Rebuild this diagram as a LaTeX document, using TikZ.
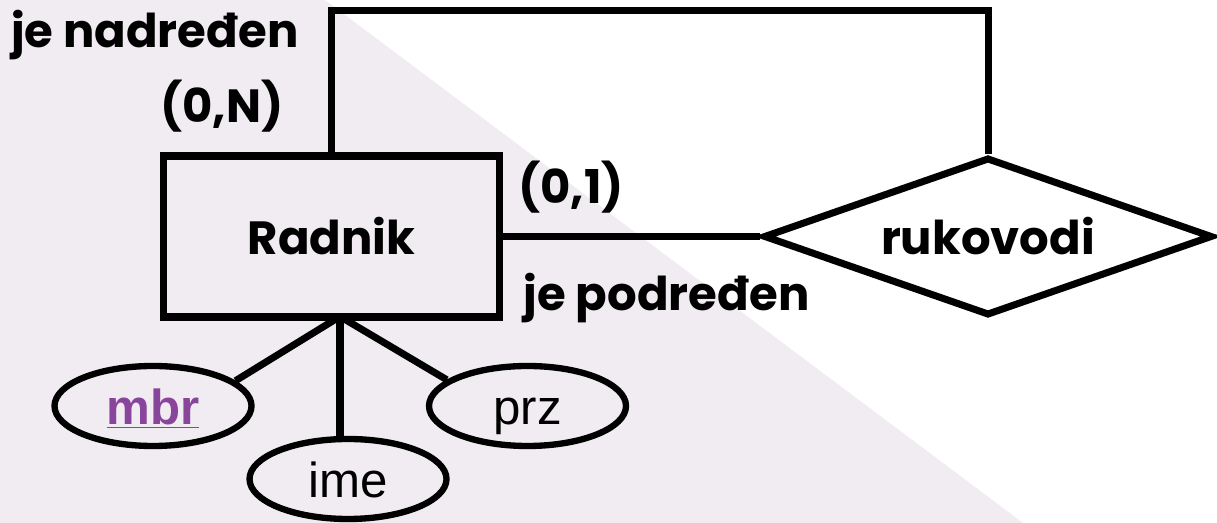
\documentclass[tikz,border=0pt]{standalone}
\usepackage{fontspec}
\setmainfont{Poppins}
\newfontfamily\attrfont{Liberation Sans}
\usepackage{tikz}
\usetikzlibrary{shapes.geometric}

\definecolor{pozadina}{RGB}{240,236,242}
\definecolor{kljuc}{RGB}{137,68,155}

\begin{document}
\begin{tikzpicture}
	[every node/.style={font=\fontsize{26.5}{30}\selectfont\bfseries, inner sep=0pt}]
	\tikzstyle{veza} = [line width=4pt, line join=miter];
	\tikzstyle{entitet} = [draw, line width=4pt, rectangle, minimum width=6.72cm, minimum height=3.22cm];
	\tikzstyle{odnos} = [draw, line width=4pt, diamond, aspect=2.84, minimum width=8.98cm, minimum height=3.16cm];
	\tikzstyle{atribut} = [draw, line width=3.6pt, ellipse, minimum width=3.94cm, minimum height=1.6cm,
		font=\attrfont\fontsize{28}{32}\selectfont, text height=0.75cm, text depth=0pt];

	% podloga
	\useasboundingbox (0,0) rectangle (24.34,10.46);
	\fill[white] (0,0) rectangle (24.34,10.46);
	\fill[pozadina] (0,0) -- (0,10.46) -- (6.5,10.46) -- (20.46,0) -- cycle;

	\node[entitet] (rad) at (6.63,5.73) {Radnik};
	\node[odnos] (ruk) at (19.76,5.73) {rukovodi};

	\node[atribut, text=kljuc] (mbr) at (3.06,2.34) {\bfseries\underline{mbr}};
	\node[atribut] (ime) at (6.96,0.88) {ime};
	\node[atribut] (prz) at (10.55,2.34) {prz};

	\coordinate (vrh) at (0,10.25);
	\coordinate (jn) at (6.8,4.13);

	% uloge i kardinalnosti
	\node[anchor=base] (nad) at (3.1,9.5) {je nadređen};
	\node (kn) at (4.44,8.34) {(0,N)};
	\node (k1) at (11.42,6.72) {(0,1)};
	\node[anchor=base] (pod) at (13.33,4.24) {je podređen};

	\draw[veza] (rad.north) -- (rad.north |- vrh) -| (ruk.north);
	\draw[veza] (rad.east) -- (ruk.west);

	\draw[veza] (jn) -- (mbr.17);
	\draw[veza] (jn) -- (jn |- ime.north);
	\draw[veza] (jn) -- (prz.162);
\end{tikzpicture}
\end{document}
